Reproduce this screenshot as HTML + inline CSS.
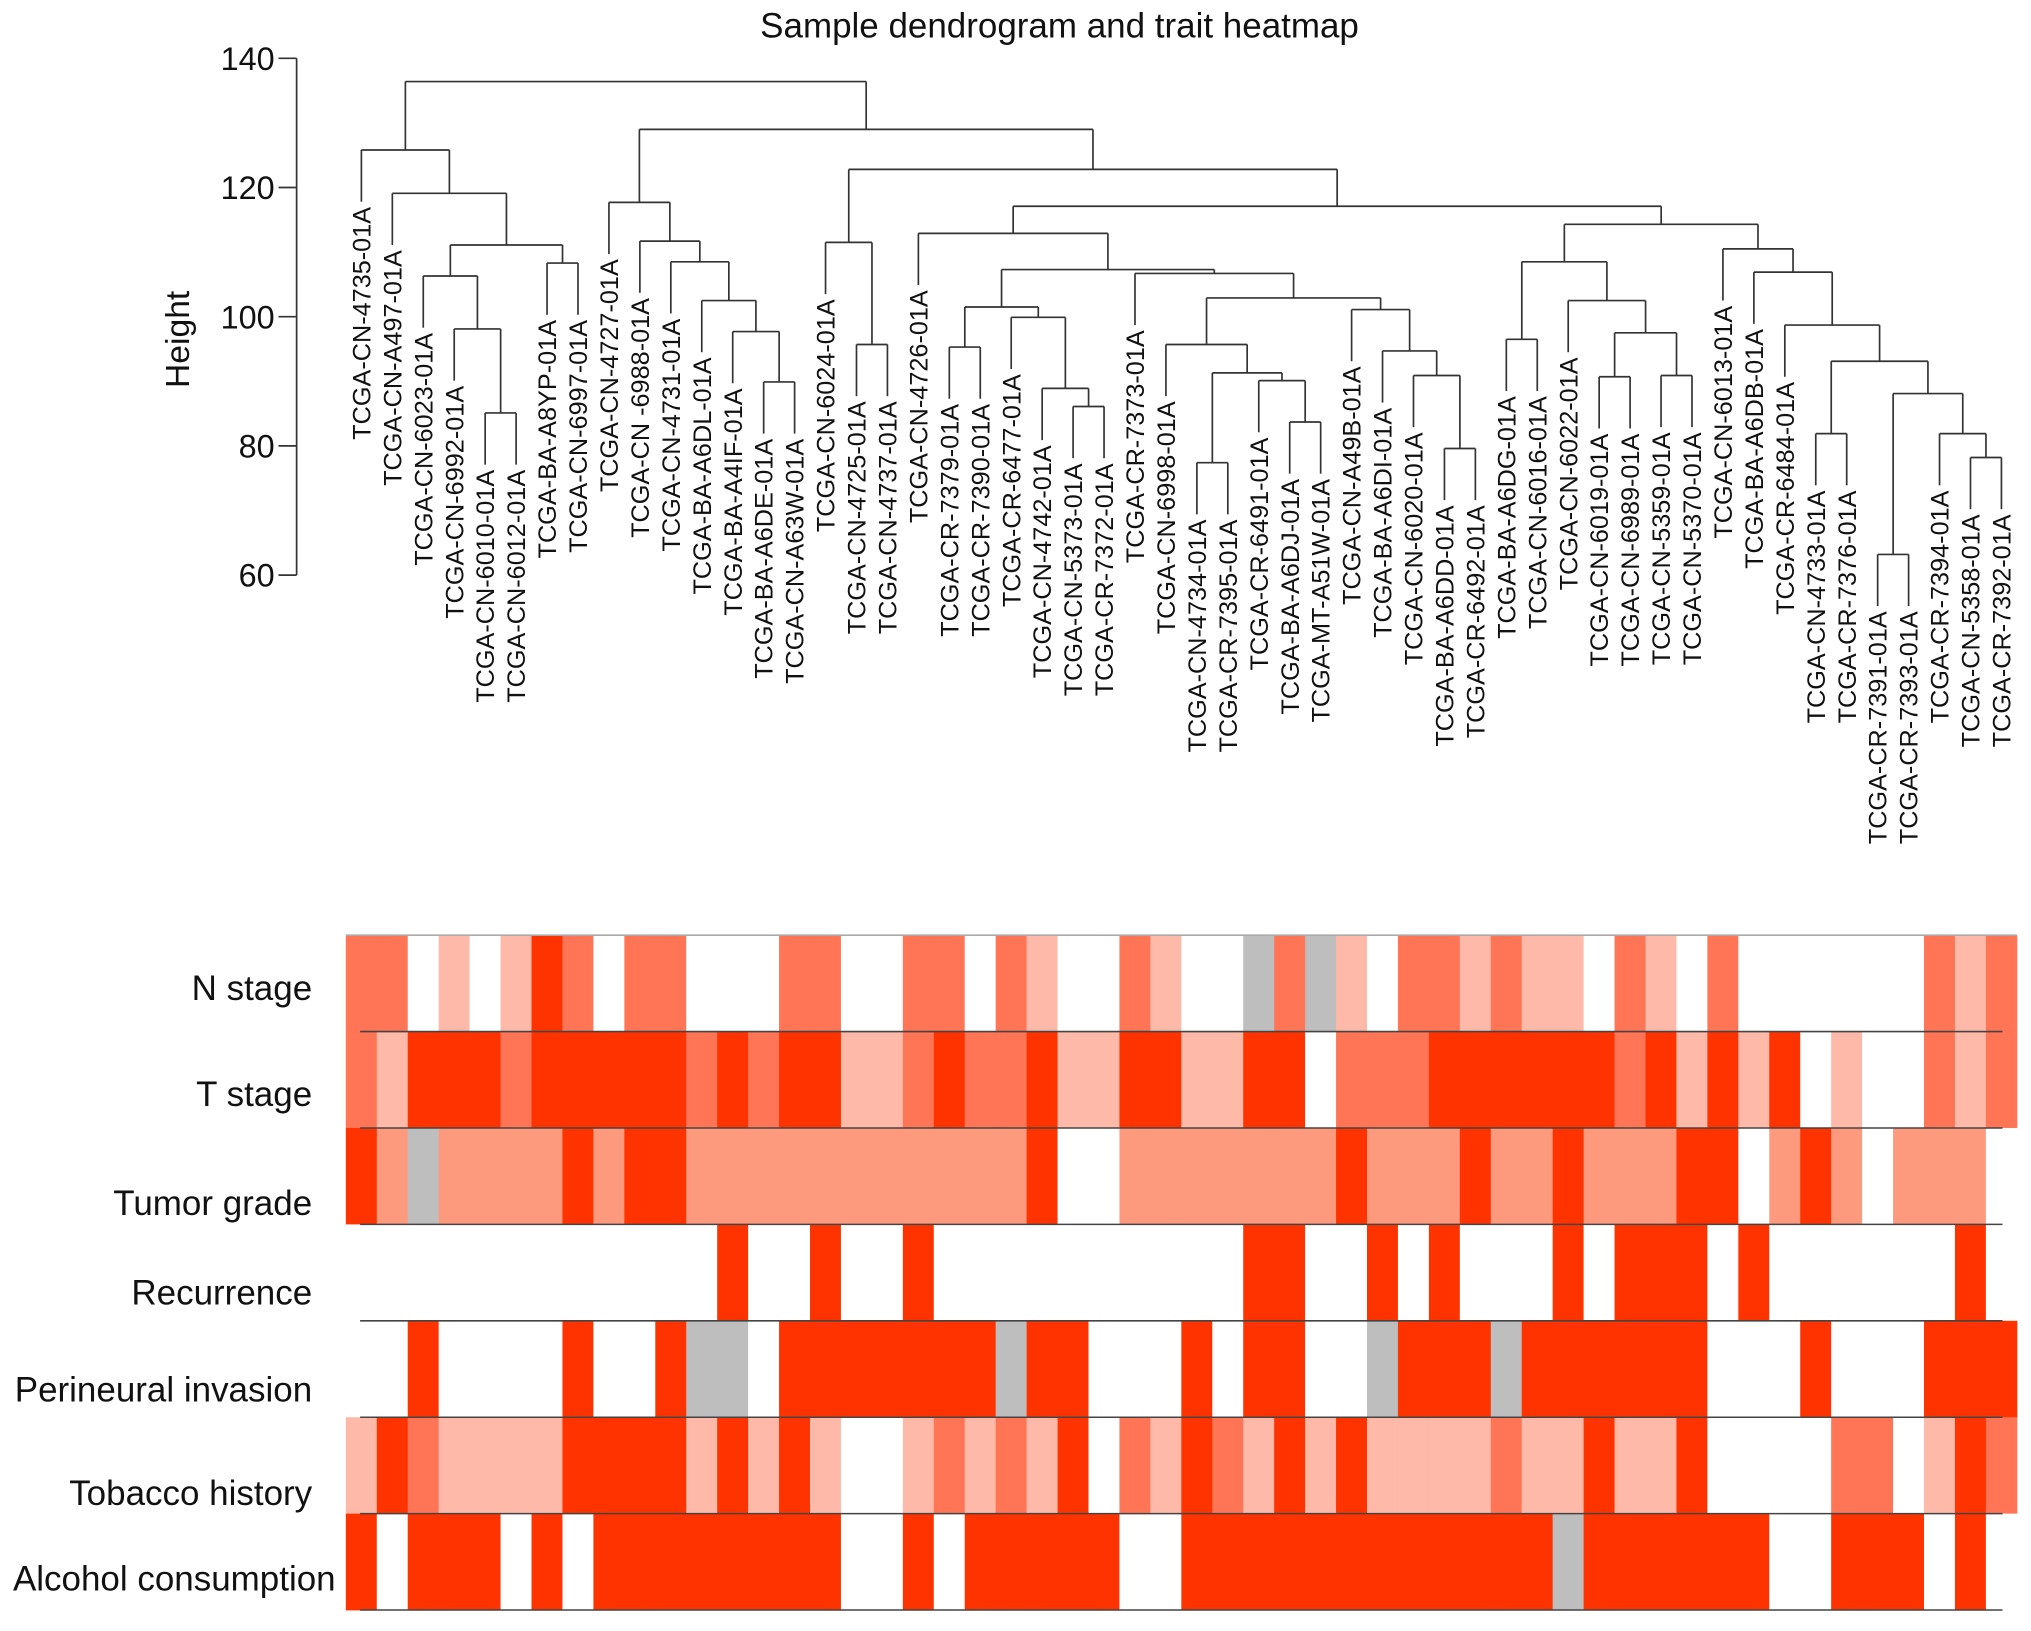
<!DOCTYPE html>
<html><head><meta charset="utf-8"><style>html,body{margin:0;padding:0;background:#fff}svg{display:block}</style></head>
<body>
<svg id="chart" width="2031" height="1631" viewBox="0 0 1568 1259.2" preserveAspectRatio="none" xmlns="http://www.w3.org/2000/svg" font-family="'Liberation Sans', Arial, sans-serif">
<rect width="1568" height="1260" fill="#fff"/>
<text x="818" y="29" font-size="27" text-anchor="middle" fill="#111">Sample dendrogram and trait heatmap</text>
<text transform="translate(146,262) rotate(-90)" font-size="26" text-anchor="middle" fill="#111">Height</text>
<g id="axis"></g>
<g id="dendro"></g>
<g id="labels"></g>
<g id="heat"></g>
<g id="rowlabels"></g>
</svg>
<script>
const samples = ["TCGA-CN-4735-01A","TCGA-CN-A497-01A","TCGA-CN-6023-01A","TCGA-CN-6992-01A","TCGA-CN-6010-01A","TCGA-CN-6012-01A","TCGA-BA-A8YP-01A","TCGA-CN-6997-01A","TCGA-CN-4727-01A","TCGA-CN -6988-01A","TCGA-CN-4731-01A","TCGA-BA-A6DL-01A","TCGA-BA-A4IF-01A","TCGA-BA-A6DE-01A","TCGA-CN-A63W-01A","TCGA-CN-6024-01A","TCGA-CN-4725-01A","TCGA-CN-4737-01A","TCGA-CN-4726-01A","TCGA-CR-7379-01A","TCGA-CR-7390-01A","TCGA-CR-6477-01A","TCGA-CN-4742-01A","TCGA-CN-5373-01A","TCGA-CR-7372-01A","TCGA-CR-7373-01A","TCGA-CN-6998-01A","TCGA-CN-4734-01A","TCGA-CR-7395-01A","TCGA-CR-6491-01A","TCGA-BA-A6DJ-01A","TCGA-MT-A51W-01A","TCGA-CN-A49B-01A","TCGA-BA-A6DI-01A","TCGA-CN-6020-01A","TCGA-BA-A6DD-01A","TCGA-CR-6492-01A","TCGA-BA-A6DG-01A","TCGA-CN-6016-01A","TCGA-CN-6022-01A","TCGA-CN-6019-01A","TCGA-CN-6989-01A","TCGA-CN-5359-01A","TCGA-CN-5370-01A","TCGA-CN-6013-01A","TCGA-BA-A6DB-01A","TCGA-CR-6484-01A","TCGA-CN-4733-01A","TCGA-CR-7376-01A","TCGA-CR-7391-01A","TCGA-CR-7393-01A","TCGA-CR-7394-01A","TCGA-CN-5358-01A","TCGA-CR-7392-01A"];
// merge tree: [height, left, right]; leaves are sample indices
const tree = [136.4,
 [125.8, 0, [119.1, 1, [111.1, [106.3, 2, [98.1, 3, [85.1, 4, 5]]], [108.3, 6, 7]]]],
 [129.0,
   [117.7, 8, [111.7, 9, [108.5, 10, [102.5, 11, [97.7, 12, [89.9, 13, 14]]]]]],
   [122.8,
     [111.5, 15, [95.7, 16, 17]],
     [117.1,
       [112.9, 18, [107.3,
           [101.5, [95.3, 19, 20], [99.9, 21, [88.9, 22, [86.1, 23, 24]]]],
           [106.7, 25, [102.9,
               [95.7, 26, [91.3, [77.4, 27, 28], [90.1, 29, [83.7, 30, 31]]]],
               [101.1, 32, [94.7, 33, [90.9, 34, [79.6, 35, 36]]]]]]]],
       [114.3,
         [108.5, [96.5, 37, 38], [102.5, 39, [97.5, [90.7, 40, 41], [90.9, 42, 43]]]],
         [110.5, 44, [106.9, 45, [98.7, 46, [93.1, [81.9, 47, 48], [88.1, [63.2, 49, 50], [81.9, 51, [78.2, 52, 53]]]]]]]]]]]];
const yTicks = [60, 80, 100, 120, 140];
const traits = ["N stage","T stage","Tumor grade","Recurrence","Perineural invasion","Tobacco history","Alcohol consumption"];
// 0 white, 1 light, 2 salmon, 3 coral, 4 red, 9 missing (grey)
const nStage = [3,3,0,1,0,1,4,3,0,3,3,0,0,0,3,3,0,0,3,3,0,3,1,0,0,3,1,0,0,9,3,9,1,0,3,3,1,3,1,1,0,3,1,0,3,0,0,0,0,0,0,3,1,3];
const tStage = [3,1,4,4,4,3,4,4,4,4,4,3,4,3,4,4,1,1,3,4,3,3,4,1,1,4,4,1,1,4,4,0,3,3,3,4,4,4,4,4,4,3,4,1,4,1,4,0,1,0,0,3,1,3];
const tumorGrade = [4,2,9,2,2,2,2,4,2,4,4,2,2,2,2,2,2,2,2,2,2,2,4,0,0,2,2,2,2,2,2,2,4,2,2,2,4,2,2,4,2,2,2,4,4,0,2,4,2,0,2,2,2,0];
const recurrence = [0,0,0,0,0,0,0,0,0,0,0,0,4,0,0,4,0,0,4,0,0,0,0,0,0,0,0,0,0,4,4,0,0,4,0,4,0,0,0,4,0,4,4,4,0,4,0,0,0,0,0,0,4,0];
const perineural = [0,0,4,0,0,0,0,4,0,0,4,9,9,0,4,4,4,4,4,4,4,9,4,4,0,0,0,4,0,4,4,0,0,9,4,4,4,9,4,4,4,4,4,4,0,0,0,4,0,0,0,4,4,4];
const tobacco = [1,4,3,1,1,1,1,4,4,4,4,1,4,1,4,1,0,0,1,3,1,3,1,4,0,3,1,4,3,1,4,1,4,1,1,1,1,3,1,1,4,1,1,4,0,0,0,0,3,3,0,1,4,3];
const alcohol = [4,0,4,4,4,0,4,0,4,4,4,4,4,4,4,4,0,0,4,0,4,4,4,4,4,0,0,4,4,4,4,4,4,4,4,4,4,4,4,9,4,4,4,4,4,4,0,0,4,4,4,0,4,0];
const traitRows = [nStage, tStage, tumorGrade, recurrence, perineural, tobacco, alcohol];
const palette = {0:"#ffffff",1:"#ffb9a8",2:"#fd9a7e",3:"#ff7556",4:"#ff3300",9:"#bebebe"};

const NS = "http://www.w3.org/2000/svg";
function mk(tag, attrs, parent){const e=document.createElementNS(NS,tag);for(const k in attrs)e.setAttribute(k,attrs[k]);parent.appendChild(e);return e;}
const x0 = 279, dx = 23.89;
const xLeaf = i => x0 + i*dx;
const yH = h => 444 - (h-60)*4.9875;
const HANG = 8;

// axis
const ax = document.getElementById('axis');
const axl = mk('line',{x1:229,x2:229,y1:yH(140),y2:yH(60),stroke:'#333','stroke-width':1.3},ax);


yTicks.forEach(t=>{
  const tk = mk('line',{x1:215,x2:229,y1:yH(t),y2:yH(t),stroke:'#333','stroke-width':1.3},ax);
  
  
  const tl = mk('text',{x:212,y:yH(t)+9,'font-size':25,'text-anchor':'end',fill:'#111'},ax);
  tl.textContent = t;
  
  
});

// dendrogram
const dg = document.getElementById('dendro');
const lg = document.getElementById('labels');
function draw(node, parentH){
  if (typeof node === 'number'){
    const x = xLeaf(node), yb = yH(parentH - HANG);
    const l = mk('line',{x1:x,x2:x,y1:yH(parentH),y2:yb,stroke:'#333','stroke-width':1.3},dg);
    
    
    const t = mk('text',{transform:`translate(${x+7},${yb+4}) rotate(-90)`,'font-size':19.5,'text-anchor':'end',fill:'#111'},lg);
    t.textContent = samples[node];
    
    
    return x;
  }
  const h = node[0];
  const xl = draw(node[1], h), xr = draw(node[2], h);
  const hl = mk('line',{x1:xl,x2:xr,y1:yH(h),y2:yH(h),stroke:'#333','stroke-width':1.3},dg);
  
  
  const xm = (xl+xr)/2;
  if (parentH !== null){
    const v = mk('line',{x1:xm,x2:xm,y1:yH(parentH),y2:yH(h),stroke:'#333','stroke-width':1.3},dg);
    
    
  }
  return xm;
}
draw(tree, null);

// heatmap
const hg = document.getElementById('heat');
const hx0 = 267, cw = 23.89, hy0 = 722, rh = 74.43;
traitRows.forEach((row, r)=>{
  row.forEach((v, i)=>{
    const c = mk('rect',{x:hx0+i*cw,y:hy0+r*rh,width:cw+0.4,height:rh+0.3,fill:palette[v]},hg);
    
    
  });
});
const topBorder = mk('line',{x1:hx0,x2:hx0+54*cw,y1:hy0,y2:hy0,stroke:'#aaa','stroke-width':1.2},hg);


for (let r=1;r<=traits.length;r++){
  const s = mk('line',{x1:278,x2:1546,y1:hy0+r*rh,y2:hy0+r*rh,stroke:'#444','stroke-width':1.2},hg);
  
  
}
const rl = document.getElementById('rowlabels');
const labelY = [763,845,929,998,1073,1153,1219];
traits.forEach((t, r)=>{
  const last = r === traits.length-1;
  const e = mk('text',{x: last?10:241, y: labelY[r]+9,'font-size':27,'text-anchor': last?'start':'end',fill:'#111'},rl);
  e.textContent = t;
  
  
});
</script>
</body></html>
